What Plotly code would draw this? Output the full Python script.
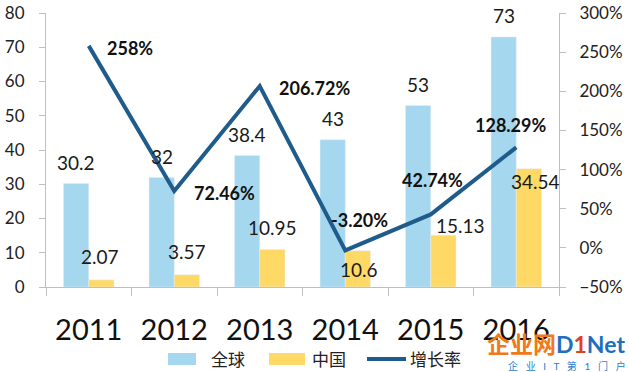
import plotly.graph_objects as go

years = ["2011", "2012", "2013", "2014", "2015", "2016"]
global_vals = [30.2, 32, 38.4, 43, 53, 73]
china_vals = [2.07, 3.57, 10.95, 10.6, 15.13, 34.54]
growth_vals = [258, 72.46, 206.72, -3.20, 42.74, 128.29]
growth_labels = ["258%", "72.46%", "206.72%", "-3.20%", "42.74%", "128.29%"]
series_names = ["全球", "中国", "增长率"]

# label offsets (pixels): style only
china_label_shift = [(-1, 23), (0, 23), (0, 22), (1, -19), (17, 10), (7, -13)]
growth_label_shift = [(41, -2), (50, -2), (55, -2), (14, 30), (2, 34), (-6, 22)]

FONT = "Lato, 'Noto Sans CJK SC', sans-serif"
BLUE_BAR = "#A5D7EF"
YELLOW_BAR = "#FFD966"
LINE = "#1F5C8B"
AXIS = "#BFBFBF"

W, H = 629, 372
ML, MR, MT, MB = 46, 70, 13, 85
PW, PH = W - ML - MR, H - MT - MB


def px_x(p):
    return (p - ML) / PW


def px_y(p):
    return (H - MB - p) / PH


fig = go.Figure()
fig.add_trace(go.Bar(x=years, y=global_vals, name=series_names[0], marker_color=BLUE_BAR, yaxis="y"))
fig.add_trace(go.Bar(x=years, y=china_vals, name=series_names[1], marker_color=YELLOW_BAR, yaxis="y"))
fig.add_trace(go.Scatter(x=years, y=growth_vals, name=series_names[2], mode="lines",
                         line=dict(color=LINE, width=4), yaxis="y2"))

ann = []
for i, y in enumerate(years):
    ann.append(dict(x=i, y=global_vals[i], xref="x", yref="y", text=str(global_vals[i]),
                    showarrow=False, xshift=-12.5, yshift=21,
                    font=dict(size=19, color="#1a1a1a", family=FONT)))
    dx, dy = china_label_shift[i]
    ann.append(dict(x=i, y=china_vals[i], xref="x", yref="y", text=str(china_vals[i]),
                    showarrow=False, xshift=12.5 + dx, yshift=dy,
                    font=dict(size=19, color="#1a1a1a", family=FONT)))
    gx, gy = growth_label_shift[i]
    ann.append(dict(x=i, y=growth_vals[i], xref="x", yref="y2", text="<b>" + growth_labels[i] + "</b>",
                    showarrow=False, xshift=gx, yshift=gy,
                    font=dict(size=18, color="#111111", family=FONT)))

# custom legend (wide swatches as in the reference)
shapes = []
leg_y0, leg_y1 = px_y(365), px_y(353)
swatches = [(168, 196, BLUE_BAR, 209), (269, 305, YELLOW_BAR, 310)]
for k, (x0, x1, col, tx) in enumerate(swatches):
    shapes.append(dict(type="rect", xref="paper", yref="paper", x0=px_x(x0), x1=px_x(x1),
                       y0=leg_y0, y1=leg_y1, fillcolor=col, line=dict(width=0)))
    ann.append(dict(xref="paper", yref="paper", x=px_x(tx), y=px_y(359), xanchor="left",
                    yanchor="middle", text=series_names[k], showarrow=False,
                    font=dict(size=17, color="#222222", family=FONT)))
shapes.append(dict(type="line", xref="paper", yref="paper", x0=px_x(367), x1=px_x(406),
                   y0=px_y(359), y1=px_y(359), line=dict(color=LINE, width=4)))
ann.append(dict(xref="paper", yref="paper", x=px_x(408), y=px_y(359), xanchor="left",
                yanchor="middle", text=series_names[2], showarrow=False,
                font=dict(size=17, color="#222222", family=FONT)))

# watermark
ann.append(dict(xref="paper", yref="paper", x=px_x(627), y=px_y(344), xanchor="right", yanchor="middle",
                text="<b><span style='color:#F07A1A'>企业网</span><span style='color:#1F6FBF'>D</span><span style='color:#E0401A'>1</span><span style='color:#1F6FBF'>Net</span></b>",
                showarrow=False, font=dict(size=23, family=FONT)))
ann.append(dict(xref="paper", yref="paper", x=px_x(628), y=px_y(366), xanchor="right", yanchor="middle",
                text="企   业   I   T   第   1   门   户", showarrow=False,
                font=dict(size=10, color="#2A7FC9", family=FONT)))

fig.update_layout(
    width=W, height=H,
    margin=dict(l=ML, r=MR, t=MT, b=MB, autoexpand=False),
    paper_bgcolor="white", plot_bgcolor="white",
    barmode="group", bargap=0.41, bargroupgap=0,
    font=dict(family=FONT, color="#222222"),
    showlegend=False,
    xaxis=dict(type="category", range=[-0.5, 5.5], showline=True, linecolor=AXIS, linewidth=1,
               ticks="outside", ticklen=8, tickcolor=AXIS, tickson="boundaries",
               tickfont=dict(size=29, color="#111111", family=FONT), tickangle=0,
               ticklabelstandoff=17, showgrid=False, zeroline=False, automargin=False),
    yaxis=dict(range=[0, 80], dtick=10, showline=True, linecolor=AXIS, ticks="outside",
               ticklen=6, tickcolor=AXIS, showgrid=False, zeroline=False, automargin=False,
               ticklabelstandoff=11,
               tickfont=dict(size=17, color="#222222", family=FONT)),
    yaxis2=dict(range=[-50, 300], dtick=50, overlaying="y", side="right", showline=True,
                linecolor=AXIS, ticks="outside", ticklen=6, tickcolor=AXIS, ticksuffix="%",
                showgrid=False, zeroline=False, automargin=False, ticklabelstandoff=10,
                tickfont=dict(size=17, color="#222222", family=FONT)),
    annotations=ann,
    shapes=shapes,
)

fig.write_html("out.html", post_script="document.body.style.margin='0';",
               config={"displayModeBar": False})
